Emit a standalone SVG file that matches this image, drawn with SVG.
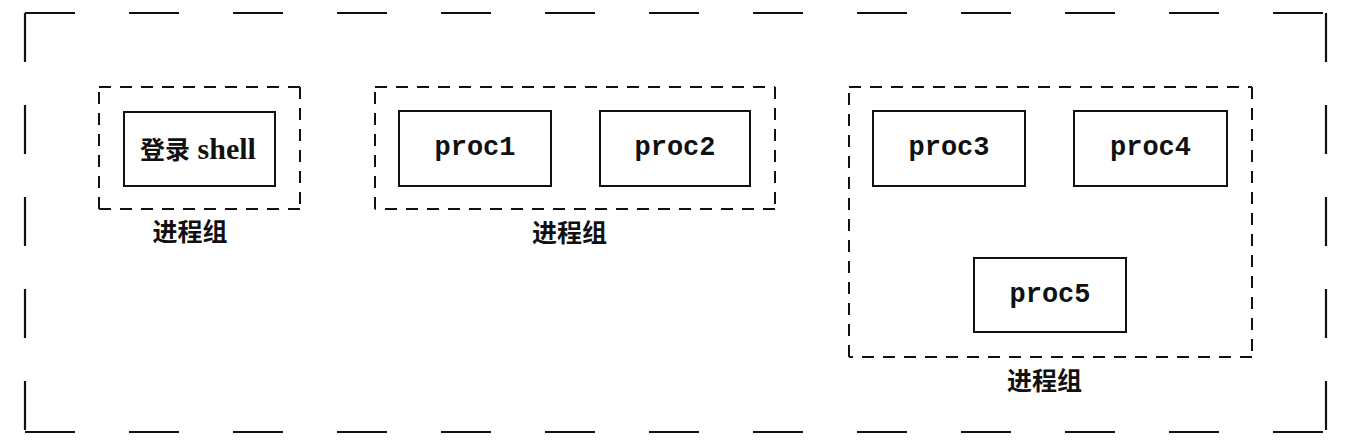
<svg xmlns="http://www.w3.org/2000/svg" width="1360" height="445" viewBox="0 0 1360 445">
<style>
.outer{stroke:#111;stroke-width:2.2;fill:none}
.grp{stroke:#111;stroke-width:2;fill:none;stroke-dasharray:12 9}
.box{stroke:#111;stroke-width:2;fill:#fff}
.mono{font-family:"Liberation Mono","DejaVu Sans Mono",monospace;font-weight:bold;font-size:27px;fill:#111;text-anchor:middle}
.cjk{font-family:"Liberation Serif","Noto Sans CJK SC",serif;font-weight:bold;font-size:25px;fill:#111;text-anchor:middle}
</style>
<rect width="1360" height="445" fill="#fff"/>
<g id="session">
<line class="outer" x1="25" y1="13" x2="1326" y2="13" stroke-dasharray="50 54"/>
<line class="outer" x1="25" y1="432" x2="1326" y2="432" stroke-dasharray="50 54"/>
<line class="outer" x1="25" y1="13" x2="25" y2="432" stroke-dasharray="49 43"/>
<line class="outer" x1="1326" y1="13" x2="1326" y2="432" stroke-dasharray="49 43"/>
</g>
<g id="group1">
<line class="grp" x1="99" y1="87" x2="300" y2="87"/>
<line class="grp" x1="300" y1="87" x2="300" y2="209"/>
<line class="grp" x1="300" y1="209" x2="99" y2="209"/>
<line class="grp" x1="99" y1="209" x2="99" y2="87"/>
<text class="cjk" x="190" y="241">进程组</text>
</g>
<g id="login-shell">
<rect class="box" x="124" y="112" width="151" height="74"/>
<text class="cjk" x="198" y="159">登录<tspan font-size="30"> shell</tspan></text>
</g>
<g id="group2">
<line class="grp" x1="375" y1="87" x2="775" y2="87"/>
<line class="grp" x1="775" y1="87" x2="775" y2="209"/>
<line class="grp" x1="775" y1="209" x2="375" y2="209"/>
<line class="grp" x1="375" y1="209" x2="375" y2="87"/>
<text class="cjk" x="569.5" y="242">进程组</text>
</g>
<g id="proc1">
<rect class="box" x="399" y="111" width="152" height="75"/>
<text class="mono" x="475" y="155">proc1</text>
</g>
<g id="proc2">
<rect class="box" x="600" y="111" width="150" height="75"/>
<text class="mono" x="675" y="155">proc2</text>
</g>
<g id="group3">
<line class="grp" x1="849" y1="87" x2="1252" y2="87"/>
<line class="grp" x1="1252" y1="87" x2="1252" y2="357"/>
<line class="grp" x1="1252" y1="357" x2="849" y2="357"/>
<line class="grp" x1="849" y1="357" x2="849" y2="87"/>
<text class="cjk" x="1044.5" y="390">进程组</text>
</g>
<g id="proc3">
<rect class="box" x="873" y="111" width="152" height="75"/>
<text class="mono" x="949" y="155">proc3</text>
</g>
<g id="proc4">
<rect class="box" x="1074" y="111" width="153" height="75"/>
<text class="mono" x="1150.5" y="155">proc4</text>
</g>
<g id="proc5">
<rect class="box" x="974" y="258" width="152" height="74"/>
<text class="mono" x="1050" y="302">proc5</text>
</g>
</svg>
